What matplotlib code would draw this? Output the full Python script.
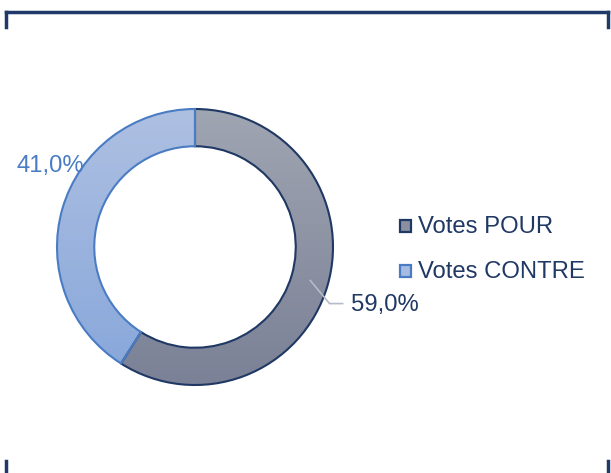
import numpy as np
import matplotlib
matplotlib.use("Agg")
import matplotlib.pyplot as plt
from matplotlib.colors import LinearSegmentedColormap

plt.rcParams['font.family'] = ['Liberation Sans', 'DejaVu Sans']

categories = ["Votes POUR", "Votes CONTRE"]
values = [59.0, 41.0]
labels = [f"{v:.1f}%".replace(".", ",") for v in values]

W, H = 611, 473
fig = plt.figure(figsize=(W / 100, H / 100), dpi=100)

cx, cy, R = 195, 247, 138
ax = fig.add_axes([(cx - R) / W, (H - cy - R) / H, 2 * R / W, 2 * R / H])
ax.set_xlim(-1, 1)
ax.set_ylim(-1, 1)
ax.axis('off')

navy = "#1f3864"
blue_edge = "#4a7cc4"
wedges, _ = ax.pie(values, startangle=90, counterclock=False, radius=1,
                   wedgeprops=dict(width=0.27, linewidth=1.5),
                   colors=["#8e94a4", "#9fb5de"])
ax.set_xlim(-1, 1)
ax.set_ylim(-1, 1)
ax.set_aspect('auto')

grads = [("#9fa5b1", "#7b8196"), ("#aec0e2", "#86a6da")]
edges = [navy, blue_edge]
grad = np.linspace(0, 1, 256).reshape(-1, 1)
for w, (c1, c2), ec in zip(wedges, grads, edges):
    cmap = LinearSegmentedColormap.from_list("g", [c1, c2])
    im = ax.imshow(grad, extent=(-1, 1, -1, 1), cmap=cmap, aspect='auto',
                   origin='upper', zorder=1)
    im.set_clip_path(w)
    w.set_facecolor('none')
    w.set_edgecolor(ec)
    w.set_zorder(2)

fs = 17.2

# label for 59%
theta1, theta2 = wedges[0].theta1, wedges[0].theta2
mid = np.deg2rad((theta1 + theta2) / 2)
r0 = 0.87
x0, y0 = r0 * np.cos(mid), r0 * np.sin(mid)
ax.plot([x0, 0.975, 1.07], [y0, -0.41, -0.41], color="#b4bcc8", lw=1.2,
        zorder=3, clip_on=False)
ax.text(1.13, -0.42, labels[0], color=navy, fontsize=fs, ha='left',
        va='center', clip_on=False)
ax.text(-0.80, 0.585, labels[1], color=blue_edge, fontsize=fs, ha='right',
        va='center', clip_on=False)

# legend
leg_y = [226, 271]
fills = ["#8a90a0", "#a5bbe2"]
for name, yy, fc, ec in zip(categories, leg_y, fills, edges):
    fig.patches.append(plt.Rectangle((399.5 / W, (H - yy - 6) / H), 12 / W, 12 / H,
                                     transform=fig.transFigure, facecolor=fc,
                                     edgecolor=ec, lw=1.6))
    fig.text(418 / W, (H - yy - 1) / H, name, color=navy, fontsize=fs,
             ha='left', va='center')

# frame fragments
fc = "#1f3a68"
lw = 2.5
fig.add_artist(plt.Line2D([6 / W, 608 / W], [(H - 12) / H, (H - 12) / H], color=fc, lw=lw))
for xx in (6, 608):
    fig.add_artist(plt.Line2D([xx / W, xx / W], [(H - 12) / H, (H - 27) / H], color=fc, lw=lw))
    fig.add_artist(plt.Line2D([xx / W, xx / W], [(H - 461) / H, 0], color=fc, lw=lw))

fig.savefig("out.png", dpi=100)
